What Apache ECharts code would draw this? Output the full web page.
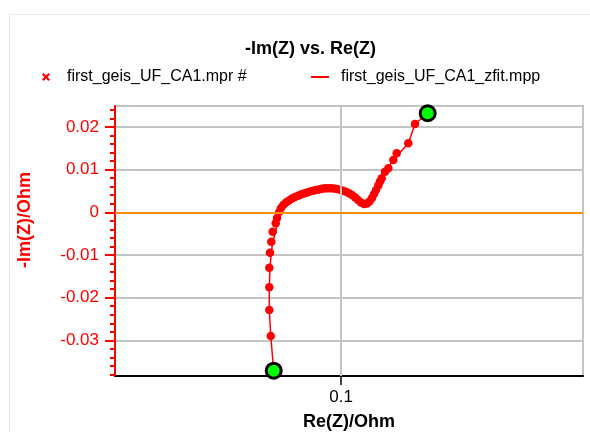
<!DOCTYPE html>
<html>
<head>
<meta charset="utf-8">
<script src="https://cdn.jsdelivr.net/npm/echarts@6/dist/echarts.min.js"></script>
<style>html,body{margin:0;padding:0;background:#fff}#c{width:590px;height:432px}</style>
</head>
<body>
<div id="c"></div>
<script>
// Measured data: Re(Z)/Ohm and -Im(Z)/Ohm
var dataRe = [0.08354,0.08321,0.08321,0.08321,0.08337,0.08368,0.0840,0.08471,0.08501,0.08555,0.08595,0.08649,0.08712,0.08782,0.08852,0.08923,0.08993,0.09063,0.09133,0.09204,0.09274,0.09344,0.09415,0.09485,0.09555,0.09625,0.09696,0.09766,0.09836,0.09906,0.09977,0.10047,0.10117,0.10187,0.10258,0.10328,0.10398,0.10468,0.10539,0.10609,0.10667,0.10726,0.10773,0.1082,0.10874,0.10913,0.10953,0.1103,0.11108,0.11225,0.11304,0.11576,0.11733];
var dataIm = [-0.02897,-0.02288,-0.01756,-0.01297,-0.00946,-0.00689,-0.00454,-0.00258,-0.00133,0.00014,0.00101,0.00171,0.0023,0.00276,0.00323,0.00358,0.00386,0.00415,0.0044,0.00464,0.00485,0.00504,0.00522,0.00536,0.0055,0.0056,0.00564,0.00562,0.00555,0.00543,0.00527,0.00506,0.0048,0.00447,0.00405,0.00351,0.00288,0.0023,0.00194,0.00206,0.00253,0.00335,0.00429,0.00522,0.00628,0.00721,0.00796,0.00951,0.0103,0.01225,0.01382,0.01616,0.02068];
// Fit curve
var fitRe = [0.08424,0.08354,0.08321,0.08321,0.08337,0.08368,0.0840,0.08471,0.08555,0.08649,0.08782,0.08923,0.09063,0.09204,0.09344,0.09485,0.09625,0.09766,0.09906,0.10047,0.10187,0.10328,0.10468,0.10539,0.10609,0.10667,0.10726,0.1082,0.10913,0.1103,0.11225,0.11576,0.11733,0.1203];
var fitIm = [-0.0371,-0.02897,-0.02288,-0.01756,-0.01297,-0.00946,-0.00689,-0.00454,0.00014,0.00171,0.00276,0.00358,0.00415,0.00464,0.00504,0.00536,0.0056,0.00562,0.00543,0.00506,0.00447,0.00351,0.0023,0.00194,0.00206,0.00253,0.00335,0.00522,0.00721,0.00951,0.01225,0.01616,0.02068,0.02319];
// Cursor end points
var endRe = [0.08424, 0.1203];
var endIm = [-0.0371, 0.02319];
var majorTicks = [-0.03,-0.02,-0.01,0,0.01,0.02];
var minorTicks = [-0.038,-0.036,-0.034,-0.032,-0.028,-0.026,-0.024,-0.022,-0.018,-0.016,-0.014,-0.012,-0.008,-0.006,-0.004,-0.002,0.002,0.004,0.006,0.008,0.012,0.014,0.016,0.018,0.022,0.024];
var xTicks = [0.1];
var xRange = [0.04707, 0.15667];
var yRange = [-0.03834, 0.02489];

function zip(a,b){return a.map(function(v,i){return [v,b[i]];});}
var FONT = 'Liberation Sans, Arial, sans-serif';
var chart = echarts.init(document.getElementById('c'));
chart.setOption({
  animation:false,
  backgroundColor:'#fff',
  textStyle:{fontFamily:FONT},
  graphic:[
    {type:'rect', shape:{x:9.5,y:14.5,width:700,height:600}, style:{fill:'none',stroke:'#e8e8e8',lineWidth:1}, silent:true, z:-10},
    {type:'text', x:25, y:220, rotation:Math.PI/2, style:{text:'-Im(Z)/Ohm', fill:'#ff0000', font:'bold 18px '+FONT, align:'center', verticalAlign:'middle'}}
  ],
  title:{text:'-Im(Z) vs. Re(Z)', left:240, top:35, textStyle:{fontSize:18,fontWeight:'bold',color:'#000',fontFamily:FONT}},
  legend:[
    {data:[{name:'first_geis_UF_CA1.mpr #', icon:'path://M0,2L2,0L5,3L8,0L10,2L7,5L10,8L8,10L5,7L2,10L0,8L3,5Z'}], left:37, top:64, itemWidth:8, itemHeight:8, textStyle:{fontSize:16,color:'#000',fontFamily:FONT,padding:[0,0,0,12]}},
    {data:[{name:'first_geis_UF_CA1_zfit.mpp', icon:'path://M0,0H18V2H0Z'}], left:306, top:64, itemWidth:18, itemHeight:2, textStyle:{fontSize:16,color:'#000',fontFamily:FONT,padding:[0,0,0,7]}}
  ],
  grid:{left:115, top:106, width:468, height:270, show:true, borderColor:'#c4c4c4', borderWidth:2, containLabel:false, outerBoundsMode:'none'},
  xAxis:{type:'value', min:xRange[0], max:xRange[1],
    name:'Re(Z)/Ohm', nameLocation:'middle', nameGap:37, nameTextStyle:{fontSize:18,fontWeight:'bold',color:'#000',fontFamily:FONT},
    axisLine:{show:true,lineStyle:{color:'#000',width:2}, onZero:false},
    axisTick:{show:true, customValues:xTicks, length:9, lineStyle:{color:'#000',width:1.5}},
    axisLabel:{customValues:xTicks, fontSize:17, color:'#000', margin:13, formatter:function(v){return String(+v.toFixed(4));}},
    splitLine:{show:false}
  },
  yAxis:[
    {type:'value', min:yRange[0], max:yRange[1], position:'left',
      axisLine:{show:true,lineStyle:{color:'#ff0000',width:2}},
      axisTick:{show:true, customValues:majorTicks, length:10, lineStyle:{color:'#ff0000',width:2}},
      axisLabel:{customValues:majorTicks, fontSize:17, color:'#ff0000', margin:16, formatter:function(v){return String(+v.toFixed(4));}},
      splitLine:{show:true, lineStyle:{color:'#c4c4c4',width:2}}
    },
    {type:'value', min:yRange[0], max:yRange[1], position:'left', offset:0,
      axisLine:{show:false},
      axisTick:{show:true, customValues:minorTicks, length:5, lineStyle:{color:'#ff0000',width:2}},
      axisLabel:{show:false}, splitLine:{show:false}
    }
  ],
  series:[
    {type:'line', name:'_grid', data:[], silent:true, z:1,
      markLine:{silent:true, symbol:'none', label:{show:false}, animation:false,
        data:[
          {xAxis:0.1, lineStyle:{color:'#c4c4c4',width:2,type:'solid'}},
          {yAxis:0, lineStyle:{color:'#ff8c00',width:2,type:'solid'}}
        ]}},
    {type:'scatter', name:'first_geis_UF_CA1.mpr #', data:zip(dataRe,dataIm), symbol:'circle', symbolSize:8.5, itemStyle:{color:'#ff0000',opacity:1}, z:3},
    {type:'line', name:'first_geis_UF_CA1_zfit.mpp', data:zip(fitRe,fitIm), showSymbol:false, symbol:'none', lineStyle:{color:'#ff0000',width:1.5}, itemStyle:{color:'#ff0000'}, z:4},
    {type:'scatter', name:'_ends', data:zip(endRe,endIm), symbol:'circle', symbolSize:15, itemStyle:{color:'#00ff00',borderColor:'#000',borderWidth:3,opacity:1}, z:5}
  ]
});
</script>
</body>
</html>
